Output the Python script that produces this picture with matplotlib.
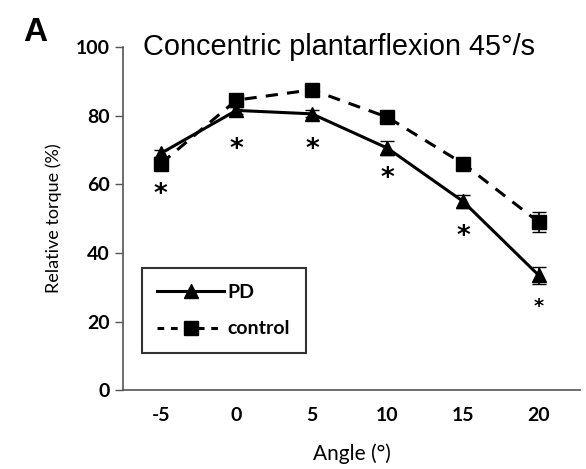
import matplotlib

matplotlib.use("Agg")
import matplotlib.pyplot as plt
from matplotlib.lines import Line2D

# angles, plotted as evenly spaced categories
angles = ["-5", "0", "5", "10", "15", "20"]

pd_mean = [69, 81.5, 80.5, 70.5, 55, 33.5]
pd_err = [1.0, 1.0, 1.0, 2.0, 2.0, 2.5]
ctrl_mean = [66, 84.5, 87.5, 79.5, 66, 49]
ctrl_err = [1.0, 1.0, 1.0, 1.0, 1.5, 3.0]

# significance asterisks (height in %), last one is smaller
star_y = [57, 70, 70, 61.5, 44.5, 24.5]
star_size = [19, 19, 19, 19, 19, 14]

plt.rcParams["font.family"] = ["Lato", "DejaVu Sans"]

fig = plt.figure(figsize=(5.86, 4.69), dpi=100)
ax = fig.add_axes([0.21, 0.168, 0.78, 0.732])

xs = list(range(len(angles)))
ax.errorbar(xs, pd_mean, yerr=pd_err, color="black", lw=2.2, ls="-",
            marker="^", ms=10, capsize=5, elinewidth=1.2)
ax.errorbar(xs, ctrl_mean, yerr=ctrl_err, color="black", lw=2.2, ls=(0, (4, 3)),
            marker="s", ms=10, capsize=5, elinewidth=1.2)

for x, y, s in zip(xs, star_y, star_size):
    ax.text(x, y, "*", ha="center", va="center", fontsize=s, fontweight="bold",
            family="DejaVu Sans")

ax.set_xlim(-0.5, 5.55)
ax.set_ylim(0, 100)
ax.set_yticks([0, 20, 40, 60, 80, 100])
ax.set_xticks(xs)
ax.set_xticklabels(angles)
ax.tick_params(labelsize=14, length=6, width=1, color="#555555")
ax.tick_params(axis="x", length=0, pad=12)
for lbl in ax.get_xticklabels() + ax.get_yticklabels():
    lbl.set_fontweight("bold")
for s in ("top", "right"):
    ax.spines[s].set_visible(False)
for s in ("left", "bottom"):
    ax.spines[s].set_color("#555555")
    ax.spines[s].set_linewidth(1.2)

ax.set_xlabel("Angle (°)", fontsize=15, labelpad=14)
ax.set_ylabel("Relative torque (%)", fontsize=13, labelpad=10)

ax.text(0.044, 1.0, "Concentric plantarflexion 45°/s", transform=ax.transAxes,
        fontsize=20.8, family="Liberation Sans", va="center", ha="left")
fig.text(0.04, 0.93, "A", fontsize=24, fontweight="bold", family="Liberation Sans",
         va="center", ha="left")

handles = [
    Line2D([], [], color="black", lw=2.2, marker="^", ms=10),
    Line2D([], [], color="black", lw=2.2, ls=(0, (2.2, 2.2)), marker="s", ms=10),
]
leg = ax.legend(handles, ["PD", "control"], loc="lower left",
                bbox_to_anchor=(0.02, 0.08), prop={"weight": "bold", "size": 14},
                frameon=True, fancybox=False, handlelength=3.4, borderpad=0.8,
                labelspacing=1.0, handletextpad=0.2)
leg.get_frame().set_edgecolor("black")
leg.get_frame().set_linewidth(1.5)

fig.savefig("out.png", dpi=100)
